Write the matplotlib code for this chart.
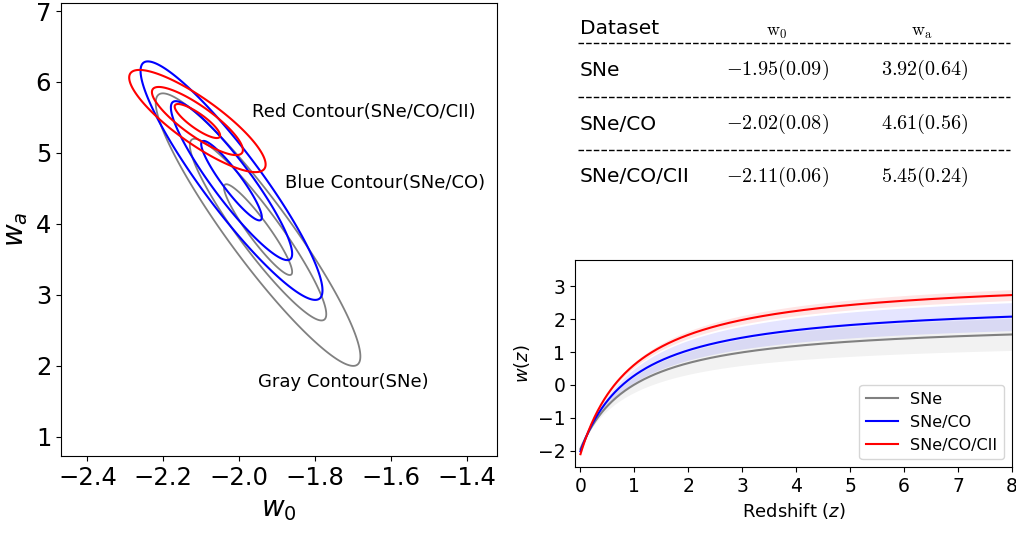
import numpy as np
import matplotlib
matplotlib.use("Agg")
import matplotlib.pyplot as plt

plt.rcParams['mathtext.fontset'] = 'dejavusans'

# fit results (from the table)
datasets = ["SNe", "SNe/CO", "SNe/CO/CII"]
w0_mean = [-1.95, -2.02, -2.11]
w0_err = [0.09, 0.08, 0.06]
wa_mean = [3.92, 4.61, 5.45]
wa_err = [0.64, 0.56, 0.24]
# w0-wa correlation read from ellipse tilt
rho = [-0.93, -0.92, -0.85]
colors = ["gray", "blue", "red"]
labels_contour = ["Gray Contour(SNe)", "Blue Contour(SNe/CO)", "Red Contour(SNe/CO/CII)"]
label_pos = [(-1.95, 1.77), (-1.878, 4.58), (-1.967, 5.58)]

fig = plt.figure(figsize=(10.16, 5.34), dpi=100)

# --- contours ---
ax = fig.add_axes([0.060, 0.146, 0.429, 0.848])
gx = np.linspace(-2.6, -1.2, 700)
gy = np.linspace(0.0, 8.0, 700)
X, Y = np.meshgrid(gx, gy)
for i in range(3):
    dx = (X - w0_mean[i]) / w0_err[i]
    dy = (Y - wa_mean[i]) / wa_err[i]
    chi2 = (dx**2 + dy**2 - 2 * rho[i] * dx * dy) / (1 - rho[i]**2)
    lw = 1.3 if colors[i] == "gray" else 1.5
    ax.contour(X, Y, chi2, levels=[1, 4, 9], colors=colors[i], linewidths=lw)
    ax.text(label_pos[i][0], label_pos[i][1], labels_contour[i], fontsize=13,
            va="center", ha="left")
ax.set_xlim(-2.47, -1.32)
ax.set_ylim(0.73, 7.11)
ax.set_xticks([-2.4, -2.2, -2.0, -1.8, -1.6, -1.4])
ax.set_yticks([1, 2, 3, 4, 5, 6, 7])
ax.tick_params(labelsize=17.5)
ax.set_xlabel(r"$w_0$", fontsize=20)
ax.set_ylabel(r"$w_a$", fontsize=20)

# --- table ---
tab = fig.add_axes([0.0, 0.0, 1.0, 1.0], zorder=-1)
tab.set_xlim(0, 1016)
tab.set_ylim(534, 0)
tab.axis("off")
col_x = [580, 777, 925]
row_y = [70, 124, 177]
line_y = [43, 97, 150]
tab.text(col_x[0], 29, "Dataset", fontsize=14.5, va="center", ha="left")
tab.text(col_x[1], 32, r"$\mathrm{w}_0$", fontsize=13, va="center", ha="center",
         math_fontfamily="cm")
tab.text(col_x[2] - 3, 32, r"$\mathrm{w}_\mathrm{a}$", fontsize=13, va="center", ha="center",
         math_fontfamily="cm")
for ly in line_y:
    tab.plot([578, 1010], [ly, ly], color="black", lw=1, ls=(0, (4, 1.5)))
for i in range(3):
    tab.text(col_x[0], row_y[i], datasets[i], fontsize=14.5, va="center", ha="left")
    tab.text(col_x[1], row_y[i], r"$%.2f(%.2f)$" % (w0_mean[i], w0_err[i]),
             fontsize=14.5, va="center", ha="center", math_fontfamily="cm")
    tab.text(col_x[2], row_y[i], r"$%.2f(%.2f)$" % (wa_mean[i], wa_err[i]),
             fontsize=14.5, va="center", ha="center", math_fontfamily="cm")

# --- w(z) ---
bx = fig.add_axes([0.566, 0.1255, 0.430, 0.3875])
z = np.linspace(0, 8, 400)
a = z / (1 + z)
for i in range(3):
    w = w0_mean[i] + wa_mean[i] * a
    sig = np.sqrt(w0_err[i]**2 + (a * wa_err[i])**2
                  + 2 * rho[i] * a * w0_err[i] * wa_err[i])
    bx.fill_between(z, w - sig, w + sig, color=colors[i], alpha=0.1, lw=0)
    bx.plot(z, w, color=colors[i], lw=1.5, label=datasets[i])
bx.set_xlim(-0.1, 8)
bx.set_ylim(-2.5, 3.8)
bx.set_xticks(range(0, 9))
bx.set_yticks([-2, -1, 0, 1, 2, 3])
bx.tick_params(labelsize=13.5)
bx.set_xlabel(r"Redshift ($z$)", fontsize=13)
bx.set_ylabel(r"$w(z)$", fontsize=13)
bx.legend(loc="lower right", fontsize=11.5)

fig.savefig("out.png", dpi=100)
